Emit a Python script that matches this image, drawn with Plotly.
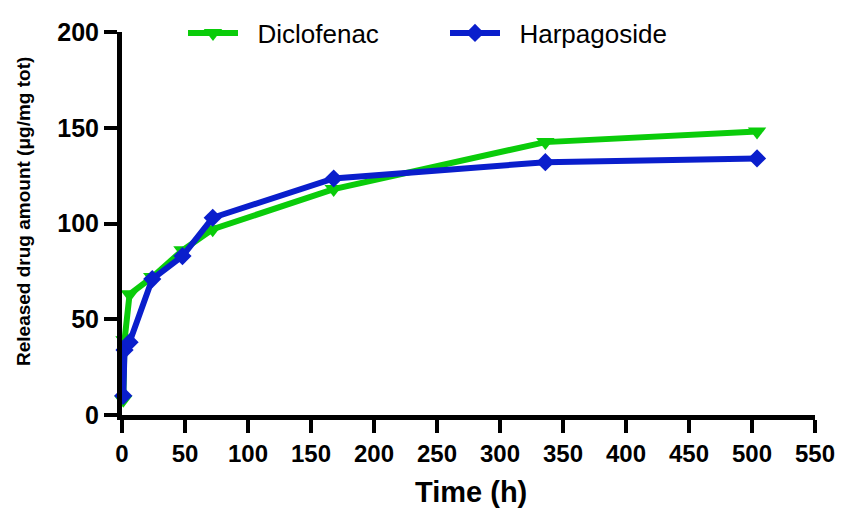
import plotly.graph_objects as go

time_h = [1, 2, 6, 24, 48, 72, 168, 336, 504]
diclofenac = [8, 39, 63, 72, 86, 97, 118, 142.5, 148]
harpagoside = [10, 34, 38, 71, 83, 103, 123.5, 132, 134]

x_ticks = list(range(0, 551, 50))
y_ticks = [0, 50, 100, 150, 200]

green = "#0ACC0A"
blue = "#0A1ECC"

fig = go.Figure()
fig.add_trace(go.Scatter(
    x=time_h, y=diclofenac, name="\u00a0\u00a0Diclofenac", mode="lines+markers",
    line=dict(color=green, width=6),
    marker=dict(symbol="triangle-down", size=16, color=green),
    cliponaxis=False, legend="legend",
))
fig.add_trace(go.Scatter(
    x=time_h, y=harpagoside, name="\u00a0\u00a0Harpagoside", mode="lines+markers",
    line=dict(color=blue, width=6),
    marker=dict(symbol="diamond", size=14, color=blue),
    cliponaxis=False, legend="legend2",
))

axis_common = dict(
    showline=True, linecolor="black", linewidth=5,
    ticks="outside", ticklen=13, tickwidth=4, tickcolor="black",
    showgrid=False, zeroline=False,
)

leg_common = dict(
    orientation="h", xanchor="left", yanchor="middle",
    xref="container", yref="container",
    font=dict(size=26), itemwidth=50,
    bgcolor="rgba(0,0,0,0)", borderwidth=0,
)

fig.update_layout(
    width=841, height=508,
    margin=dict(l=122, r=26, t=32, b=93, autoexpand=False),
    plot_bgcolor="white", paper_bgcolor="white",
    font=dict(family="Liberation Sans, Arial, sans-serif", color="black"),
    xaxis=dict(
        range=[0, 550], tickvals=x_ticks,
        tickfont=dict(size=24, family="Liberation Sans, Arial", weight="bold"),
        **axis_common,
    ),
    yaxis=dict(
        range=[0, 200], tickvals=y_ticks,
        tickfont=dict(size=25, family="Liberation Sans, Arial", weight="bold"),
        **axis_common,
    ),
    legend=dict(x=183 / 841, y=1 - 33 / 508, **leg_common),
    legend2=dict(x=445 / 841, y=1 - 33 / 508, **leg_common),
    showlegend=True,
    annotations=[
        dict(text="<b>Time (h)</b>", xref="paper", yref="paper",
             x=(471 - 122) / 693, y=(415 - 492) / 383,
             xanchor="center", yanchor="middle", showarrow=False,
             font=dict(size=29)),
        dict(text="<b>Released drug amount (μg/mg tot)</b>", xref="paper", yref="paper",
             x=(23 - 122) / 693, y=(415 - 212) / 383, textangle=-90,
             xanchor="center", yanchor="middle", showarrow=False,
             font=dict(size=19)),
    ],
)

fig.write_html("out.html")
